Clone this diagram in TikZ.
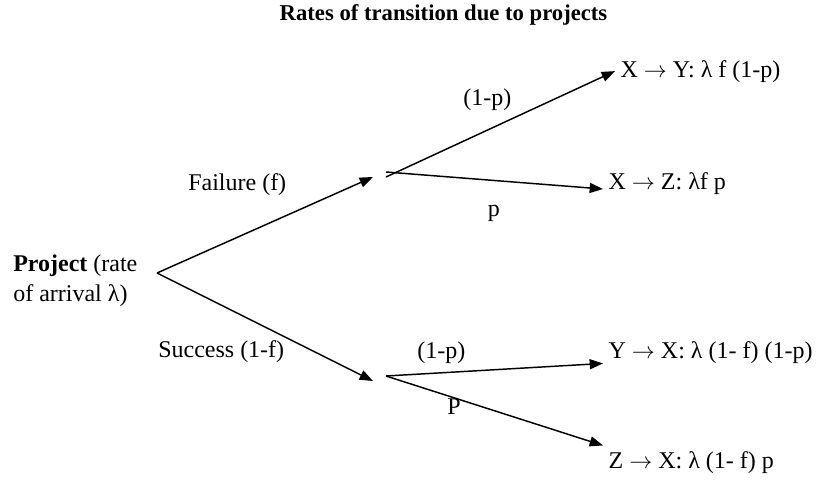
\documentclass[tikz,border=0pt]{standalone}
\usepackage{fontspec}
\setmainfont{Liberation Serif}
\usetikzlibrary{arrows.meta}

\newcommand{\trto}{\ensuremath{\rightarrow}}

\tikzset{
  lbl/.style={anchor=base west,inner sep=0pt,font=\fontsize{18}{22.5}\selectfont},
  leaf/.style={anchor=base west,inner sep=4pt,font=\fontsize{18}{22.5}\selectfont},
  arr/.style={line width=1.1pt,-{Triangle[length=10pt,width=7.5pt]}},
  seg/.style={line width=1.1pt}
}

\begin{document}
\begin{tikzpicture}[x=0.75pt,y=0.75pt,yscale=-1,xscale=1]
\useasboundingbox (0,0) rectangle (817,483);

% Title
\node [anchor=base,inner sep=0pt,font=\fontsize{17}{20}\selectfont\bfseries] (title) at (443.5,20) {Rates of transition due to projects};

% Root node
\node [anchor=west,inner sep=0pt,align=left,font=\fontsize{18}{22.5}\selectfont] (proj) at (13,281) {\textbf{Project} (rate\\of arrival λ)};

%Points of the tree
\coordinate (root) at (157,273);
\coordinate (failTip) at (373,177);
\coordinate (succTip) at (373,381);
\coordinate (failA) at (386,177);
\coordinate (failB) at (386,172);
\coordinate (succO) at (386,376);

% Outcome nodes
\node [leaf] (xy) at (615,77) {X \trto{} Y: λ f (1-p)};
\node [leaf] (xz) at (603,189) {X \trto{} Z: λf p};
\node [leaf] (yx) at (603,358) {Y \trto{} X: λ (1- f) (1-p)};
\node [leaf] (zx) at (603,468) {Z \trto{} X: λ (1- f) p};

%Straight Lines
\draw [arr] (root) -- (failTip);
\draw [arr] (root) -- (succTip);
\draw [arr] (failA) -- (xy.west);
\draw [arr] (failB) -- (xz.base west);
\draw [arr] (succO) -- ([yshift=8.5pt]yx.west);
\draw [arr] (succO) -- (zx.north west);

% Text Node
\node [lbl] (failLbl) at (188,190) {Failure (f)};
% Text Node
\node [lbl] (succLbl) at (158,357) {Success (1-f)};
% Text Node
\node [lbl] (pFailUp) at (463,105) {(1-p)};
% Text Node
\node [lbl] (pFailDn) at (487.5,216) {p};
% Text Node
\node [lbl] (pSuccUp) at (417,358) {(1-p)};
% Text Node
\node [lbl] (pSuccDn) at (447,414) {P};
\end{tikzpicture}
\end{document}
